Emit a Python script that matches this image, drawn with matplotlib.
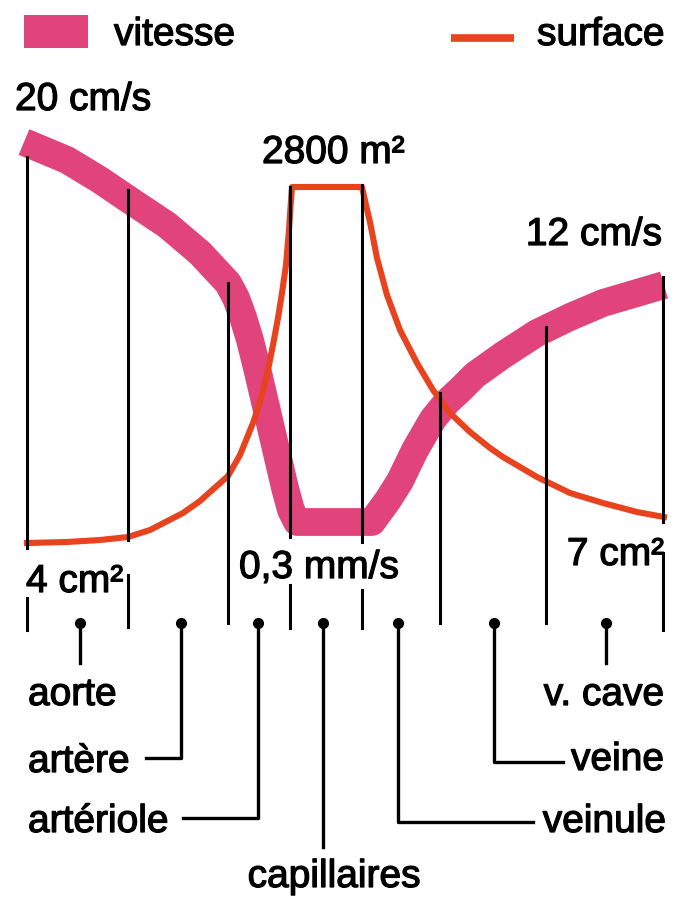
import matplotlib
matplotlib.use("Agg")
import matplotlib.pyplot as plt
import matplotlib.patheffects as pe
from matplotlib.patches import Rectangle

plt.rcParams['font.family'] = ['Liberation Sans', 'DejaVu Sans']
FS = 28

PINK = '#e0447b'
RED = '#e8431f'

# schematic positions (x to the right, y downwards)
bounds_x = [27, 128, 228, 290, 362, 440, 546, 663]
# each boundary line: list of (top, bottom) pieces
bounds_seg = [[(157, 548), (598, 630)],
              [(190, 540), (575, 627)],
              [(283, 623)],
              [(187, 537), (585, 628)],
              [(185, 542), (590, 628)],
              [(393, 623)],
              [(327, 623)],
              [(277, 522), (553, 630)]]

vit_x = [24, 67, 100, 128, 167, 200, 228, 236, 243, 250, 257, 264, 271, 278, 285, 291, 297,
         372, 388, 400, 415, 433, 447, 460, 475, 503, 537, 570, 603, 637, 664]
vit_y = [142, 160, 180, 199, 225, 253, 283, 298, 317, 340, 368, 398, 428, 458, 488, 510, 522,
         522, 500, 481, 450, 419, 402, 390, 375, 355, 333, 317, 303, 293, 285]

surf_x = [27, 67, 100, 128, 150, 183, 200, 228, 240, 253, 260, 267, 273, 278, 282, 286, 289, 291, 292,
          362, 366, 370, 377, 387, 400, 417, 433, 450, 470, 490, 503, 537, 570, 603, 637, 664]
surf_y = [543, 542, 540, 537, 530, 513, 501, 476, 455, 423, 402, 375, 345, 318, 293, 265, 230, 200, 187,
          187, 205, 222, 258, 295, 330, 363, 390, 413, 432, 448, 457, 477, 493, 503, 512, 517]

vessels = ['aorte', 'artère', 'artériole', 'capillaires', 'veinule', 'veine', 'v. cave']
dot_x = [80, 181, 258, 323, 398, 494, 606]
dot_y = 623
# connector path end: (y of elbow, x of end)
conn = [(663, 80), (758, 146), (818, 183), (847, 323), (822, 533), (762, 563), (663, 606)]
lab_pos = [(28, 705, 'left'), (28, 772, 'left'), (28, 832, 'left'), (334, 887, 'center'),
           (666, 832, 'right'), (664, 770, 'right'), (664, 705, 'right')]

values = [('20 cm/s', 15, 110, 'left'), ('2800 m²', 262, 163, 'left'),
          ('12 cm/s', 662, 245, 'right'), ('4 cm²', 26, 592, 'left'),
          ('0,3 mm/s', 239, 578, 'left'), ('7 cm²', 664, 565, 'right')]

fig = plt.figure(figsize=(6.74, 8.98), dpi=100)
ax = fig.add_axes([0, 0, 1, 1])
ax.set_xlim(0, 674)
ax.set_ylim(898, 0)
ax.axis('off')

heavy = [pe.withStroke(linewidth=0.9, foreground='black')]

# speed band and surface line
ax.plot(vit_x, vit_y, color=PINK, lw=20, solid_capstyle='butt', solid_joinstyle='round', zorder=2)
ax.plot(surf_x, surf_y, color=RED, lw=4.4, solid_joinstyle='round', zorder=3)

# vessel boundaries
for bx, segs in zip(bounds_x, bounds_seg):
    for top, bot in segs:
        ax.plot([bx, bx], [top, bot], color='black', lw=2.2, zorder=4)

# label connectors
for (ey, ex), dx in zip(conn, dot_x):
    ax.plot([dx, dx, ex], [dot_y, ey, ey], color='black', lw=2.4, zorder=4)
ax.plot(dot_x, [dot_y] * len(dot_x), 'o', color='black', ms=7, zorder=5)

for name, (lx, ly, ha) in zip(vessels, lab_pos):
    ax.text(lx, ly, name, fontsize=FS, ha=ha, va='baseline', path_effects=heavy)

for txt, tx, ty, ha in values:
    ax.text(tx, ty, txt, fontsize=FS, ha=ha, va='baseline', path_effects=heavy)

# legend
ax.add_patch(Rectangle((24, 15), 64, 33, color=PINK, lw=0))
ax.text(114, 45, 'vitesse', fontsize=FS, va='baseline', path_effects=heavy)
ax.plot([451, 514], [38, 38], color=RED, lw=5.5, solid_capstyle='butt')
ax.text(537, 45, 'surface', fontsize=FS, va='baseline', path_effects=heavy)

fig.savefig('out.png', dpi=100)
